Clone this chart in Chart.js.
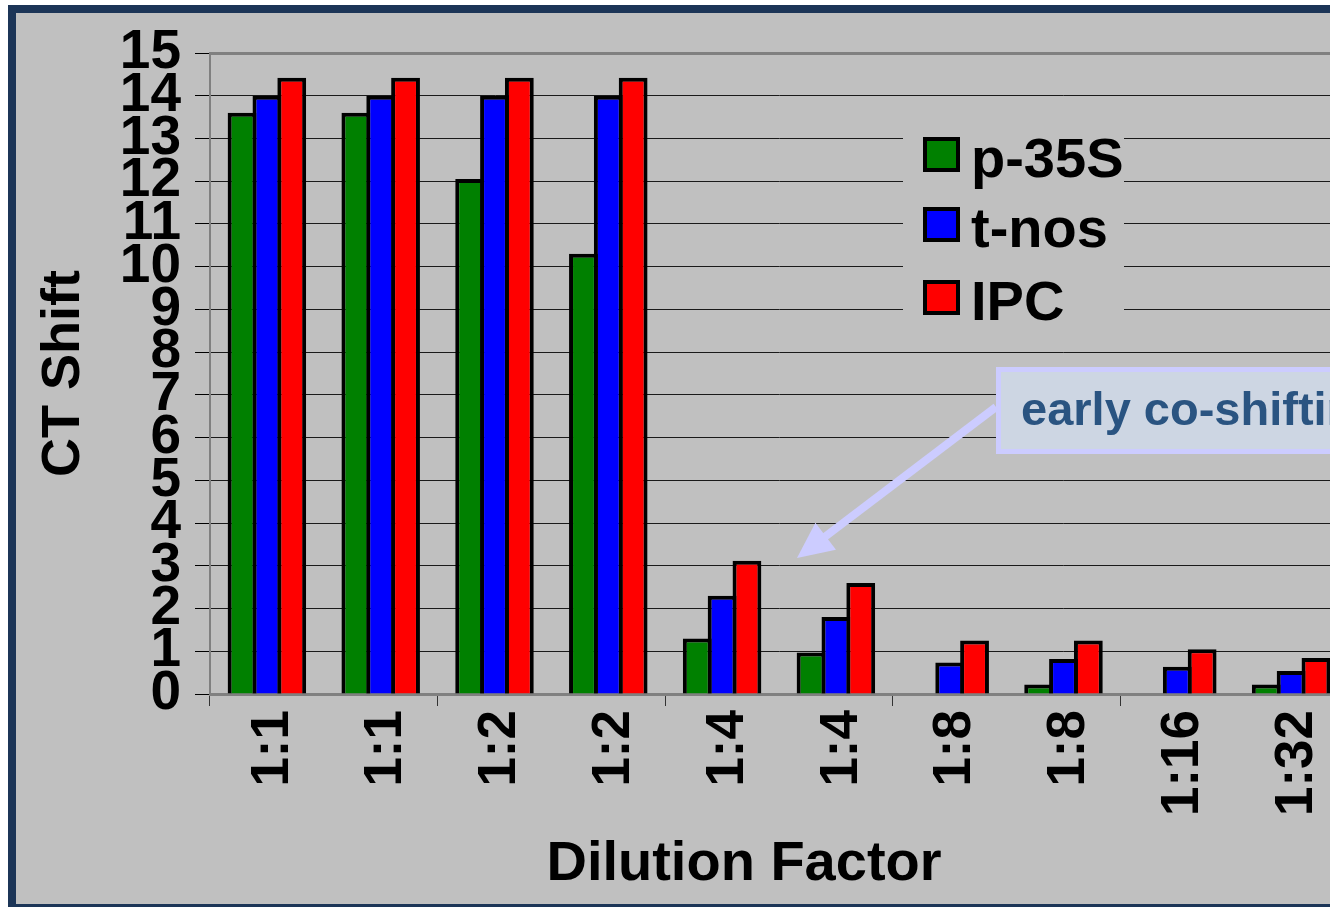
<!DOCTYPE html>
<html>
<head>
<meta charset="utf-8">
<title>CT Shift by Dilution Factor</title>
<script src="https://cdn.jsdelivr.net/npm/chart.js@4/dist/chart.umd.min.js"></script>
<style>
  html, body { margin: 0; padding: 0; width: 1330px; height: 907px; overflow: hidden; background: #ffffff; }
  #frame {
    position: absolute; left: 8px; top: 5px;
    width: 1400px; height: 891px;
    background: #c0c0c0;
    border: 8px solid #1c3557;
  }
  #chart { position: absolute; left: 0; top: 0; }
</style>
</head>
<body>
<div id="frame"></div>
<canvas id="chart" width="1360" height="907"></canvas>
<script>
// Dilution series (repeated runs per dilution)
const categories = ['1:1', '1:1', '1:2', '1:2', '1:4', '1:4', '1:8', '1:8', '1:16', '1:32'];

// CT shift per target
const p35S = [13.6, 13.6, 12.05, 10.3, 1.3, 0.97, null, 0.22, null, 0.22];
const tNos = [14.0, 14.0, 14.0, 14.0, 2.3, 1.8, 0.74, 0.82, 0.64, 0.54];
const ipc  = [14.42, 14.42, 14.42, 14.42, 3.12, 2.6, 1.25, 1.25, 1.05, 0.84];

const seriesNames = ['p-35S', 't-nos', 'IPC'];
const seriesColors = ['#008000', '#0000ff', '#ff0000'];

const yTicks = { min: 0, max: 15, step: 1 };

const FONT = "'Liberation Sans', Arial, Helvetica, sans-serif";

// Legend drawn inside the plot, on a panel that hides the grid behind it
const insideLegend = {
  id: 'insideLegend',
  beforeDatasetsDraw(chart) {
    const ctx = chart.ctx;
    ctx.save();
    ctx.fillStyle = '#c0c0c0';
    ctx.fillRect(903, 124, 221, 206);
    const baselines = [177, 247, 320];
    ctx.font = 'bold 56px ' + FONT;
    ctx.textBaseline = 'alphabetic';
    ctx.textAlign = 'left';
    chart.data.datasets.forEach((ds, i) => {
      const top = baselines[i] - 40;
      ctx.fillStyle = '#000000';
      ctx.fillRect(923, top, 37, 35);
      ctx.fillStyle = ds.backgroundColor;
      ctx.fillRect(927, top + 4, 29, 27);
      ctx.fillStyle = '#000000';
      ctx.fillText(ds.label, 971, baselines[i]);
    });
    ctx.restore();
  }
};

// Call-out box with arrow, and the horizontal axis title
const callout = {
  id: 'callout',
  afterDatasetsDraw(chart) {
    const ctx = chart.ctx;
    ctx.save();
    // box
    ctx.fillStyle = '#cdd6e3';
    ctx.fillRect(996, 367, 420, 87);
    ctx.strokeStyle = '#ccccff';
    ctx.lineWidth = 5;
    ctx.strokeRect(998.5, 369.5, 420, 82);
    ctx.fillStyle = '#2a5481';
    ctx.font = 'bold 47px ' + FONT;
    ctx.textBaseline = 'alphabetic';
    ctx.fillText('early co-shifting', 1021, 425);
    // arrow
    const sx = 996, sy = 407, tx = 797, ty = 558;
    const dx = tx - sx, dy = ty - sy, len = Math.hypot(dx, dy);
    const ux = dx / len, uy = dy / len, nx = -uy, ny = ux;
    const head = 36, half = 17;
    const bx = tx - ux * head, by = ty - uy * head;
    ctx.strokeStyle = '#ccccff';
    ctx.lineWidth = 8;
    ctx.beginPath();
    ctx.moveTo(sx, sy);
    ctx.lineTo(bx + ux * 4, by + uy * 4);
    ctx.stroke();
    ctx.fillStyle = '#ccccff';
    ctx.beginPath();
    ctx.moveTo(tx, ty);
    ctx.lineTo(bx + nx * half, by + ny * half);
    ctx.lineTo(bx - nx * half, by - ny * half);
    ctx.closePath();
    ctx.fill();
    // x axis title
    ctx.fillStyle = '#000000';
    ctx.font = 'bold 56px ' + FONT;
    ctx.textAlign = 'center';
    ctx.fillText('Dilution Factor', 744, 880);
    ctx.restore();
  }
};

const values = [p35S, tNos, ipc];

new Chart(document.getElementById('chart'), {
  type: 'bar',
  data: {
    labels: categories,
    datasets: values.map((v, i) => ({
      label: seriesNames[i],
      data: v,
      backgroundColor: seriesColors[i],
      borderColor: '#000000',
      borderWidth: 4,
      borderSkipped: 'start',
      // neighbouring bars overlap by one border width so they share a single outline
      categoryPercentage: 0.655,
      barPercentage: 1.16
    }))
  },
  options: {
    responsive: false,
    animation: false,
    devicePixelRatio: 1,
    layout: { padding: { left: 0, right: 12, top: 53, bottom: 0 } },
    plugins: {
      legend: { display: false },
      tooltip: { enabled: false }
    },
    scales: {
      x: {
        afterFit(scale) {
          scale.height = 213;
          scale.paddingLeft = 0;
          scale.paddingRight = 0;
        },
        grid: {
          display: true,
          drawOnChartArea: false,
          offset: true,
          tickLength: 12,
          tickWidth: 1,
          tickColor: (c) => (c.index % 2 === 0 ? '#333333' : 'rgba(0,0,0,0)')
        },
        border: { display: true, color: '#808080', width: 3 },
        ticks: {
          autoSkip: false,
          minRotation: 90,
          maxRotation: 90,
          padding: 4,
          labelOffset: 6,
          color: '#000000',
          font: { family: FONT, weight: 'bold', size: 53 }
        }
      },
      y: {
        min: yTicks.min,
        max: yTicks.max,
        afterFit(scale) {
          scale.width = 210;
          scale.paddingTop = 0;
          scale.paddingBottom = 0;
        },
        grid: {
          color: (c) => (c.tick && c.tick.value === yTicks.max ? '#808080' : '#1a1a1a'),
          lineWidth: (c) => (c.tick && c.tick.value === yTicks.max ? 3 : 1),
          tickLength: 15,
          tickWidth: 1,
          tickColor: '#000000'
        },
        border: { display: true, color: '#808080', width: 2 },
        ticks: {
          stepSize: yTicks.step,
          autoSkip: false,
          padding: 14,
          color: '#000000',
          font: { family: FONT, weight: 'bold', size: 55 }
        },
        title: {
          display: true,
          text: 'CT Shift',
          color: '#000000',
          padding: { top: 32, bottom: 0 },
          font: { family: FONT, weight: 'bold', size: 54 }
        }
      }
    }
  },
  plugins: [insideLegend, callout]
});
</script>
</body>
</html>
